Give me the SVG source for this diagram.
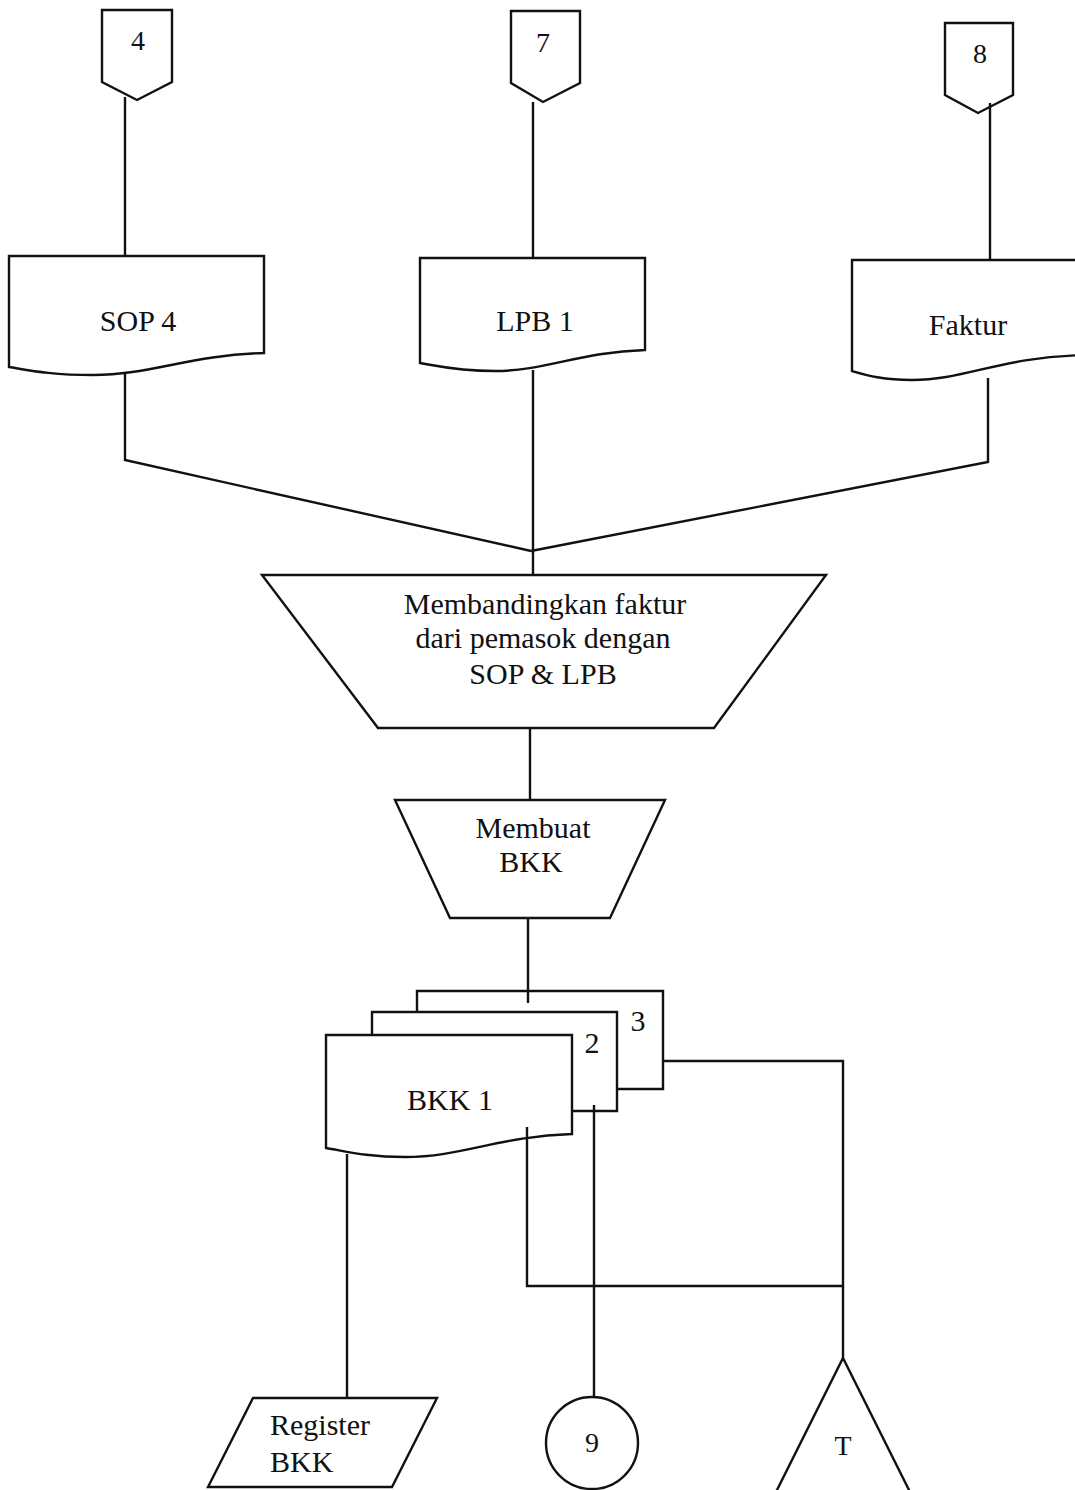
<svg xmlns="http://www.w3.org/2000/svg" width="1075" height="1490" viewBox="0 0 1075 1490">
  <style>
    .shape { fill: #ffffff; stroke: #111111; stroke-width: 2.4; stroke-linejoin: miter; }
    .wire { fill: none; stroke: #111111; stroke-width: 2.4; }
    .label { font-family: "Liberation Serif", "Times New Roman", serif; font-size: 30px; fill: #111111; text-anchor: middle; }
    .left { text-anchor: start; }
  </style>
  <rect width="1075" height="1490" fill="#ffffff"/>

  <!-- off-page connectors -->
  <g id="offpage-4">
    <path class="shape" d="M102,10 H172 V82 L137,100 L102,82 Z"/>
    <text class="label" x="138" y="50" style="font-size:28px">4</text>
  </g>
  <g id="offpage-7">
    <path class="shape" d="M511,11 H580 V83 L543,102 L511,83 Z"/>
    <text class="label" x="543" y="52" style="font-size:28px">7</text>
  </g>
  <g id="offpage-8">
    <path class="shape" d="M945,23 H1013 V95 L978,113 L945,95 Z"/>
    <text class="label" x="980" y="63" style="font-size:28px">8</text>
  </g>

  <!-- source documents -->
  <g id="doc-sop4">
    <path class="shape" d="M9,256 H264 V353 C190,355 150,375 93,375 C50,375 28,370 9,367 Z"/>
    <text class="label" x="138" y="331">SOP 4</text>
  </g>
  <g id="doc-lpb1">
    <path class="shape" d="M420,258 H645 V350 C580,352 545,371 495,371 C457,371 438,366 420,363 Z"/>
    <text class="label" x="535" y="331">LPB 1</text>
  </g>
  <g id="doc-faktur">
    <path class="shape" d="M852,260 H1085 V355 C1000,357 965,380 912,380 C882,380 866,375 852,371 Z"/>
    <text class="label" x="968" y="335">Faktur</text>
  </g>

  <!-- manual operations -->
  <g id="op-compare">
    <path class="shape" d="M262,575 H826 L714,728 H378 Z"/>
    <text class="label" x="545" y="614">Membandingkan faktur</text>
    <text class="label" x="543" y="648">dari pemasok dengan</text>
    <text class="label" x="543" y="684">SOP &amp; LPB</text>
  </g>
  <g id="op-make-bkk">
    <path class="shape" d="M395,800 H665 L610,918 H450 Z"/>
    <text class="label" x="533" y="838">Membuat</text>
    <text class="label" x="531" y="872">BKK</text>
  </g>

  <!-- BKK copies -->
  <g id="doc-bkk3">
    <path class="shape" d="M417,1035 V991 H663 V1089 H600 V1035 Z"/>
    <text class="label" x="638" y="1031">3</text>
  </g>
  <g id="doc-bkk2">
    <path class="shape" d="M372,1050 V1012 H617 V1111 H560 V1050 Z"/>
    <text class="label" x="592" y="1053">2</text>
  </g>
  <g id="doc-bkk1">
    <path class="shape" d="M326,1035 H572 V1134 C500,1136 462,1157 405,1157 C365,1157 345,1151 326,1148 Z"/>
    <text class="label" x="450" y="1110">BKK 1</text>
  </g>

  <!-- register -->
  <g id="register-bkk">
    <path class="shape" d="M253,1398 H437 L392,1487 H208 Z"/>
    <text class="label left" x="270" y="1435">Register</text>
    <text class="label left" x="270" y="1472">BKK</text>
  </g>

  <!-- on-page connector -->
  <g id="connector-9">
    <circle class="shape" cx="592" cy="1443" r="46"/>
    <text class="label" x="592" y="1452" style="font-size:28px">9</text>
  </g>

  <!-- file -->
  <g id="file-t">
    <path class="shape" d="M843,1358 L912,1496 H774 Z"/>
    <text class="label" x="843" y="1455" style="font-size:28px">T</text>
  </g>

  <!-- connectors, drawn last so their ends show over the shapes -->
  <g id="connectors">
    <path class="wire" d="M125,97 V256"/>
    <path class="wire" d="M533,102 V258"/>
    <path class="wire" d="M990,103 V260"/>
    <path class="wire" d="M125,372 V460 L531,551"/>
    <path class="wire" d="M988,378 V462 L531,551"/>
    <path class="wire" d="M533,370 V575"/>
    <path class="wire" d="M530,728 V800"/>
    <path class="wire" d="M528,918 V1003"/>
    <path class="wire" d="M347,1154 V1398"/>
    <path class="wire" d="M527,1127 V1286 H843"/>
    <path class="wire" d="M594,1105 V1397"/>
    <path class="wire" d="M663,1061 H843 V1358"/>
  </g>
</svg>
